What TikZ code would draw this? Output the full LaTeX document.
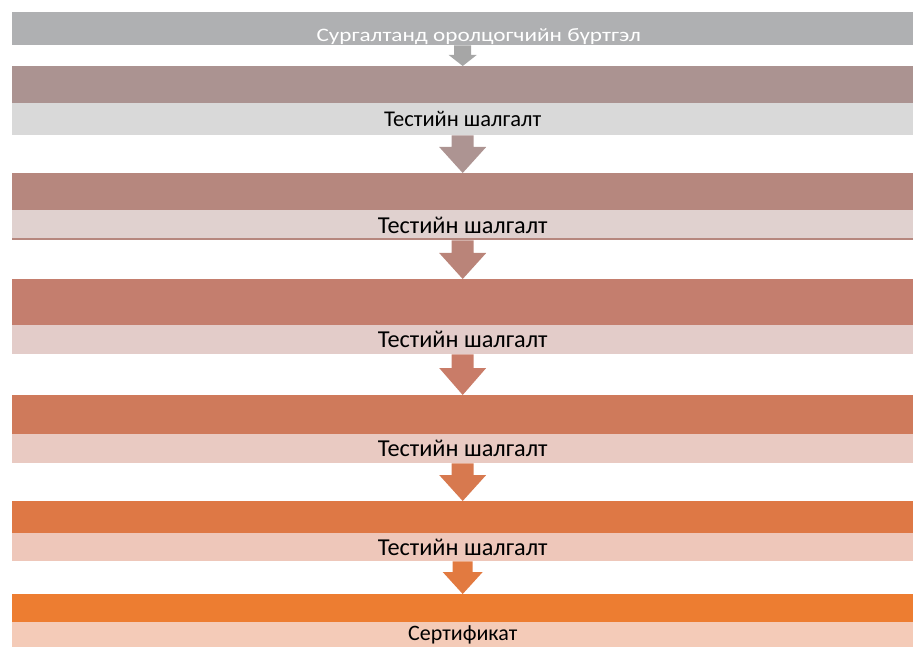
\documentclass[tikz,border=0pt]{standalone}
\usepackage{fontspec}
\usepackage{graphicx}
\setmainfont{Carlito}
\usetikzlibrary{calc}

\definecolor{regfill}{HTML}{AFB0B2}
\definecolor{arrowA}{HTML}{A6A6A6}
\definecolor{barA}{HTML}{AB9391}
\definecolor{testA}{HTML}{D9D9D9}
\definecolor{arrowB}{HTML}{AD9492}
\definecolor{barB}{HTML}{B6877E}
\definecolor{testB}{HTML}{E0D1CF}
\definecolor{arrowC}{HTML}{BA8479}
\definecolor{barC}{HTML}{C47E6E}
\definecolor{testC}{HTML}{E3CCC9}
\definecolor{arrowD}{HTML}{C97C68}
\definecolor{barD}{HTML}{CF7A5B}
\definecolor{testD}{HTML}{E9CAC2}
\definecolor{arrowE}{HTML}{D7794F}
\definecolor{barE}{HTML}{DE7845}
\definecolor{testE}{HTML}{EEC7BA}
\definecolor{arrowF}{HTML}{E27A40}
\definecolor{barF}{HTML}{ED7D31}
\definecolor{certfill}{HTML}{F4CBB8}

\tikzstyle{band} = [rectangle, inner sep=0pt, minimum width=901pt, anchor=north west]
\tikzstyle{test} = [band, text=black, font=\fontsize{24.3}{24.3}\selectfont]
\tikzstyle{regtext} = [text=white, inner sep=0pt, anchor=base, font=\fontsize{19}{19}\selectfont]

% block arrow: from, to, shaft half width, head half width, head length, colour
\newcommand{\blockarrow}[6]{%
  \fill[#6] ($(#1.south)+(-#3,0)$) -- ($(#2.north)+(-#3,-#5)$) -- ($(#2.north)+(-#4,-#5)$)
    -- (#2.north) -- ($(#2.north)+(#4,-#5)$) -- ($(#2.north)+(#3,-#5)$)
    -- ($(#1.south)+(#3,0)$) -- cycle;}

\begin{document}
\begin{tikzpicture}[x=1pt, y=-1pt]
    \useasboundingbox (0,0) rectangle (913,647);

    \node [band, fill=regfill, minimum height=33.5pt] (reg) at (12,11.5) {};
    \node [regtext] (reg_text) at ($(reg.south)+(16,-3.5)$) {\scalebox{1.22}[1]{Сургалтанд оролцогчийн бүртгэл}};

    \node [band, fill=barA, minimum height=37pt] (bar_1) at (12,66) {};
    \node [test, fill=testA, minimum height=32pt, font=\fontsize{22.5}{22.5}\selectfont] (test_1) at (12,103) {Тестийн шалгалт};

    \node [band, fill=barB, minimum height=37pt] (bar_2) at (12,173) {};
    \node [test, fill=testB, minimum height=30pt] (test_2) at (12,210) {Тестийн шалгалт};
    \draw [barB, line width=2pt] ($(test_2.south west)+(0,-1)$) -- ($(test_2.south east)+(0,-1)$);

    \node [band, fill=barC, minimum height=46pt] (bar_3) at (12,279) {};
    \node [test, fill=testC, minimum height=29pt] (test_3) at (12,325) {Тестийн шалгалт};

    \node [band, fill=barD, minimum height=39pt] (bar_4) at (12,395) {};
    \node [test, fill=testD, minimum height=29pt] (test_4) at (12,434) {Тестийн шалгалт};

    \node [band, fill=barE, minimum height=32pt] (bar_5) at (12,501) {};
    \node [test, fill=testE, minimum height=28pt] (test_5) at (12,533) {Тестийн шалгалт};

    \node [band, fill=barF, minimum height=28pt] (bar_6) at (12,594) {};
    \node [test, fill=certfill, minimum height=25pt, font=\fontsize{22}{22}\selectfont] (cert) at (12,622) {Сертификат};

    \blockarrow{reg}{bar_1}{8.5}{14}{11}{arrowA}
    \blockarrow{test_1}{bar_2}{11}{23.5}{26}{arrowB}
    \blockarrow{test_2}{bar_3}{11}{23.5}{26}{arrowC}
    \blockarrow{test_3}{bar_4}{11}{23.5}{27}{arrowD}
    \blockarrow{test_4}{bar_5}{11}{23.5}{26}{arrowE}
    \blockarrow{test_5}{bar_6}{10}{20}{22}{arrowF}

\end{tikzpicture}
\end{document}
